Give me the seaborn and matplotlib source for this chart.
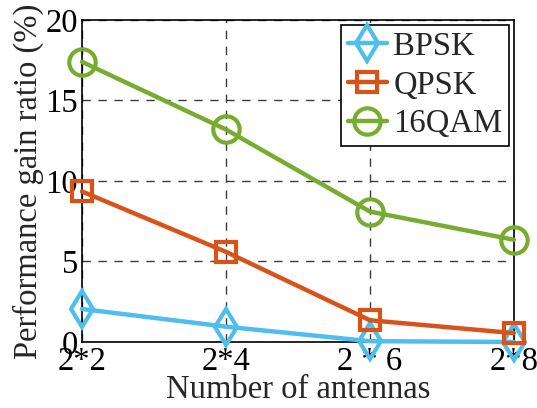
import numpy as np
import pandas as pd
import matplotlib
matplotlib.use("Agg")
import matplotlib.pyplot as plt
import seaborn as sns

# Antenna configurations and gain ratios (%) per modulation scheme
antennas = ["2*2", "2*4", "2 * 6", "2*8"]
bpsk = [2.05, 0.95, 0.05, 0.0]
qpsk = [9.35, 5.6, 1.35, 0.55]
qam16 = [17.4, 13.2, 8.1, 6.35]

series_names = ["BPSK", "QPSK", "16QAM"]
series_values = [bpsk, qpsk, qam16]
colors = ["#4DBEEE", "#D95319", "#77AC30"]
markers = ["d", "s", "o"]
marker_sizes = [18, 15, 19]

sns.set_style("white")
plt.rcParams["font.family"] = ["Liberation Serif", "DejaVu Serif"]

fig = plt.figure(figsize=(5.37, 4.08), dpi=100)
ax = fig.add_axes([0.1527, 0.1618, 0.957 - 0.1527, 0.951 - 0.1618])

x = np.arange(len(antennas))
for name, vals, c, m, ms in zip(series_names, series_values, colors, markers, marker_sizes):
    df = pd.DataFrame({"x": x, "y": vals})
    sns.lineplot(data=df, x="x", y="y", ax=ax, color=c, lw=3.2,
                 marker=m, markersize=ms, mfc="none", mec=c, mew=3,
                 label=name, clip_on=False, zorder=3)

ax.set_xlim(0, len(antennas) - 1)
ax.set_ylim(0, 20)
ax.set_xticks(x)
ax.set_xticklabels(antennas)
ax.set_yticks([0, 5, 10, 15, 20])

ax.grid(True, color="#3a3a3a", linestyle=(0, (6, 5.5)), linewidth=1.0)
for s in ax.spines.values():
    s.set_color("black")
    s.set_linewidth(1.2)
    s.set_visible(True)

ax.tick_params(axis="both", labelsize=23.5, length=0, pad=3, colors="black")
ax.set_xlabel("Number of antennas", fontsize=23.5, labelpad=-1.5)
ax.set_ylabel("Performance gain ratio (%)", fontsize=23.5, labelpad=1)

leg = ax.legend(loc="upper right", fontsize=23.5, frameon=True, fancybox=False,
                edgecolor="black", framealpha=1, handlelength=1.2,
                handletextpad=0.2, borderpad=0.2, labelspacing=0.25,
                borderaxespad=0.15)
leg.get_frame().set_linewidth(1.2)

fig.savefig("out.png", dpi=100)
